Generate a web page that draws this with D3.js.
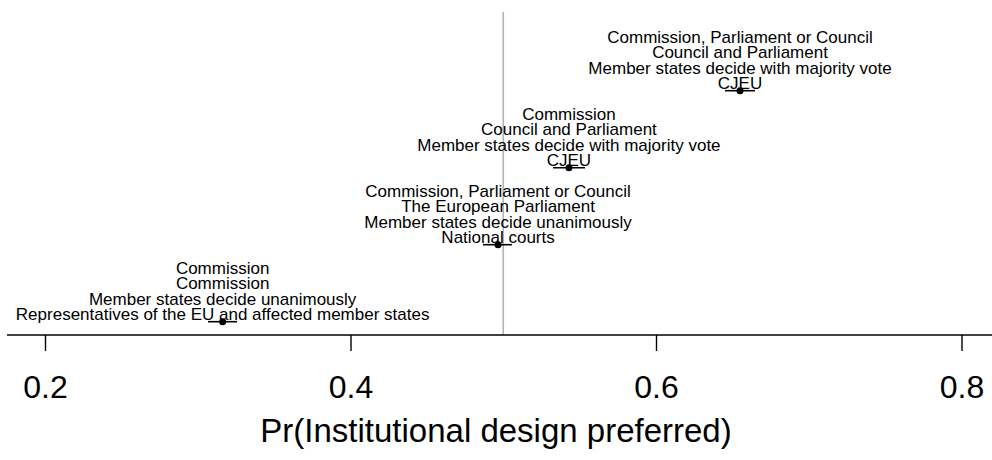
<!DOCTYPE html>
<html>
<head>
<meta charset="utf-8">
<script src="https://cdn.jsdelivr.net/npm/d3@7"></script>
<style>
  html, body { margin: 0; padding: 0; background: #fff; }
  svg { display: block; }
  text { font-family: "Liberation Sans", Arial, Helvetica, sans-serif; fill: #000; }
</style>
</head>
<body>
<svg id="chart" width="992" height="460"></svg>
<script>
// Profiles (rows, top to bottom): label lines for each
const profileLabels = [
  ["Commission, Parliament or Council", "Council and Parliament", "Member states decide with majority vote", "CJEU"],
  ["Commission", "Council and Parliament", "Member states decide with majority vote", "CJEU"],
  ["Commission, Parliament or Council", "The European Parliament", "Member states decide unanimously", "National courts"],
  ["Commission", "Commission", "Member states decide unanimously", "Representatives of the EU and affected member states"]
];
const estimates = [0.655, 0.543, 0.4966, 0.3163];
const lower = [0.6452, 0.5326, 0.4867, 0.3067];
const upper = [0.6648, 0.5536, 0.5057, 0.3257];
const xTicks = [0.2, 0.4, 0.6, 0.8];
const refValue = 0.5;
const xTitle = "Pr(Institutional design preferred)";

const svg = d3.select("#chart");
const x = d3.scaleLinear().domain([0.2, 0.8]).range([45, 961.5]);
const y = d3.scalePoint().domain(d3.range(profileLabels.length)).range([90.7, 321.7]);
const axisY = 335;

// reference line
svg.append("line")
  .attr("x1", x(refValue)).attr("x2", x(refValue))
  .attr("y1", 12).attr("y2", axisY)
  .attr("stroke", "#b4b4b4").attr("stroke-width", 1.6);

// x axis
const axis = d3.axisBottom(x).tickValues(xTicks).tickSize(16).tickPadding(24)
  .tickFormat(d3.format(".1f"));
const gAxis = svg.append("g").attr("transform", `translate(0,${axisY})`).call(axis);
gAxis.select(".domain").remove();
gAxis.append("line").attr("x1", 7).attr("x2", 992).attr("y1", 0).attr("y2", 0)
  .attr("stroke", "#000").attr("stroke-width", 1.6);
gAxis.selectAll(".tick line").attr("stroke", "#000").attr("stroke-width", 1.4);
gAxis.selectAll(".tick text")
  .style("font-family", "'Liberation Sans', Arial, sans-serif")
  .style("font-size", "32px").attr("fill", "#000");

svg.append("text")
  .attr("x", 496).attr("y", 442)
  .attr("text-anchor", "middle")
  .style("font-size", "33px")
  .text(xTitle);

// CI lines
svg.append("g").selectAll("line").data(estimates).join("line")
  .attr("x1", (d, i) => x(lower[i])).attr("x2", (d, i) => x(upper[i]))
  .attr("y1", (d, i) => y(i)).attr("y2", (d, i) => y(i))
  .attr("stroke", "#000").attr("stroke-width", 1.6);

// points
svg.append("g").selectAll("circle").data(estimates).join("circle")
  .attr("cx", d => x(d)).attr("cy", (d, i) => y(i)).attr("r", 3.5)
  .attr("fill", "#000");

// labels
const lineGap = 15.5;
const gl = svg.append("g");
profileLabels.forEach((lines, i) => {
  const n = lines.length;
  lines.forEach((t, j) => {
    gl.append("text")
      .attr("x", x(estimates[i]))
      .attr("y", y(i) - 1.5 - (n - 1 - j) * lineGap)
      .attr("text-anchor", "middle")
      .style("font-size", "17px")
      .text(t);
  });
});
</script>
</body>
</html>
